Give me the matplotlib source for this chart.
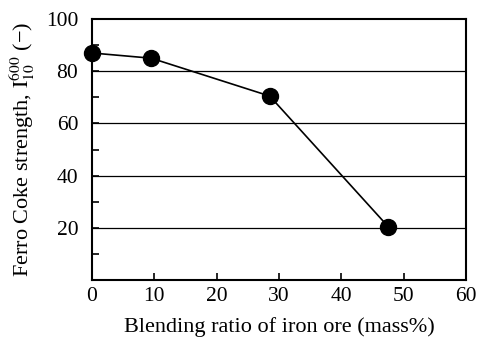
import numpy as np
import matplotlib.pyplot as plt

plt.rcParams['font.family'] = ['Liberation Serif', 'DejaVu Serif']
plt.rcParams['mathtext.fontset'] = 'stix'

# Ferro coke strength vs. iron ore blending ratio
ore_ratio = [0, 9.5, 28.5, 47.5]
strength = [87, 85, 70.5, 20.5]

fig = plt.figure(figsize=(4.82, 3.4), dpi=100)
ax = fig.add_axes([0.191, 0.176, 0.776, 0.768])

ax.plot(ore_ratio, strength, color='black', linewidth=1.2, marker='o',
        markersize=11.5, clip_on=False, zorder=3)

ax.set_xlim(0, 60)
ax.set_ylim(0, 100)
ax.set_xticks(np.arange(0, 61, 10))
ax.set_yticks([20, 40, 60, 80, 100])
ax.set_yticks(np.arange(10, 100, 20), minor=True)
ax.tick_params(direction='in', labelsize=15.5, length=5, width=1.2)
ax.tick_params(which='minor', direction='in', length=5, width=1.2)
ax.tick_params(axis='x', pad=5)
ax.tick_params(axis='y', pad=10)

for y in [20, 40, 60, 80]:
    ax.axhline(y, color='black', linewidth=0.9, zorder=1)

for s in ax.spines.values():
    s.set_linewidth(1.5)

ax.set_xlabel('Blending ratio of iron ore (mass%)', fontsize=16, labelpad=8)
ax.set_ylabel(r'Ferro Coke strength, $\mathrm{I}_{10}^{600}$ (−)', fontsize=16, labelpad=6)

plt.savefig('out.png', dpi=100)
